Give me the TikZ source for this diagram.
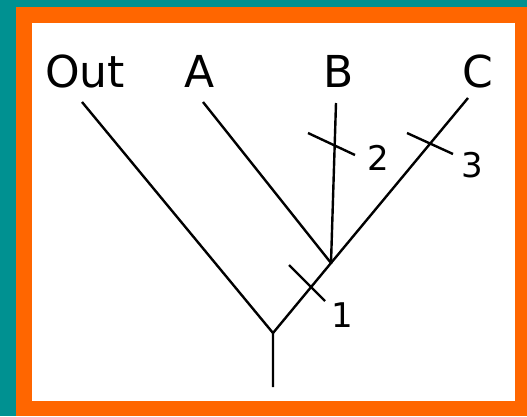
\documentclass[tikz,border=0pt]{standalone}
\usepackage{fontspec}
\setmainfont{DejaVu Sans}
\definecolor{frameteal}{RGB}{0,145,145}
\definecolor{frameorange}{RGB}{255,102,0}
\tikzset{
  branch/.style={line width=2.4pt},
  taxon/.style={anchor=base,inner sep=0pt,font=\fontsize{44}{44}\selectfont},
  change/.style={inner sep=0pt,font=\fontsize{34}{34}\selectfont}
}

\begin{document}
\begin{tikzpicture}[x=1pt,y=-1pt]
% frame
\fill[frameteal] (0,0) rectangle (527,416);
\fill[frameorange] (16,7) rectangle (527,416);
\fill[white] (32,23) rectangle (515,401);
\useasboundingbox (0,0) rectangle (527,416);
% tree
\coordinate (root) at (273,387);
\coordinate (n1) at (273,333);
\coordinate (n2) at (331,263);
\coordinate (tout) at (82,102);
\coordinate (ta) at (203,102);
\coordinate (tb) at (336,103);
\coordinate (tc) at (468,98);
\draw[branch] (root) -- (n1) -- (tout);
\draw[branch] (n1) -- (n2) -- (ta);
\draw[branch] (n2) -- (tb);
\draw[branch] (n2) -- (tc);
\node[taxon] (lout) at (85,87) {Out};
\node[taxon] (la) at (200,87) {A};
\node[taxon] (lb) at (339,87) {B};
\node[taxon] (lc) at (478,87) {C};
% character changes
\draw[branch] (289,265) -- (325,301);
\draw[branch] (308,133) -- (355,155);
\draw[branch] (407,133) -- (453,154);
\node[change] (c1) at (342,315) {1};
\node[change] (c2) at (378,158) {2};
\node[change] (c3) at (472,165) {3};
\end{tikzpicture}
\end{document}
